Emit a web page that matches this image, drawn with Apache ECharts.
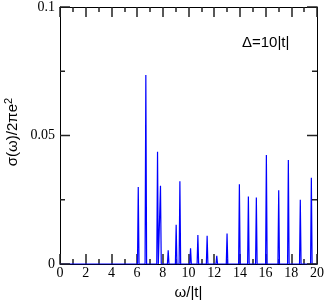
<!DOCTYPE html>
<html>
<head>
<meta charset="utf-8">
<script src="https://cdn.jsdelivr.net/npm/echarts@6/dist/echarts.min.js"></script>
<style>html,body{margin:0;padding:0;background:#fff}#c{width:327px;height:304px}</style>
</head>
<body>
<div id="c"></div>
<script>
// Peak positions (ω/|t|) and heights (σ(ω)/2πe²)
var peakOmega  = [6.09, 6.68, 7.59, 7.82, 8.42, 9.04, 9.33, 10.16, 10.73, 11.45, 12.2, 13.0, 13.96, 14.66, 15.28, 16.06, 17.02, 17.77, 18.7, 19.56];
var peakSigma  = [0.0300, 0.0735, 0.0437, 0.0304, 0.0053, 0.0153, 0.0322, 0.0061, 0.0113, 0.0110, 0.0032, 0.0119, 0.0310, 0.0263, 0.0259, 0.0424, 0.0287, 0.0405, 0.0250, 0.0336];
var xTicks = [0, 2, 4, 6, 8, 10, 12, 14, 16, 18, 20];
var yTicks = [0, 0.05, 0.1];
var annotation = 'Δ=10|t|';

// y axis is run in units of 1e-3 (integer ticks), labels divide back
var yUnit = 1000;
var halfWidth = 0.06;
var data = [[0, 0]];
for (var i = 0; i < peakOmega.length; i++) {
  data.push([peakOmega[i] - halfWidth, 0]);
  data.push([peakOmega[i], peakSigma[i] * yUnit]);
  data.push([peakOmega[i] + halfWidth, 0]);
}
data.push([20, 0]);

var chart = echarts.init(document.getElementById('c'), null, {renderer: 'canvas'});
var serif = 'Liberation Serif';
var sans = 'Liberation Sans';
var tickCol = '#222';
function xAx(pos, show) {
  return {
    type: 'value', position: pos, min: xTicks[0], max: xTicks[xTicks.length - 1], interval: 2,
    axisLine: {show: true, onZero: false, lineStyle: {color: '#000', width: 1}},
    axisTick: {show: true, inside: true, length: 10, lineStyle: {color: tickCol, width: 1.5}},
    minorTick: {show: true, splitNumber: 2, length: 5, lineStyle: {color: tickCol, width: 1.5}},
    splitLine: {show: false},
    axisLabel: {show: true, fontFamily: serif, fontSize: 14, color: show ? '#000' : 'rgba(0,0,0,0)', margin: 2},
    name: show ? 'ω/|t|' : '', nameLocation: 'middle', nameGap: 13,
    nameTextStyle: {fontFamily: sans, fontSize: 15, color: '#000'}
  };
}
function yAx(pos, show) {
  return {
    type: 'value', position: pos,
    min: yTicks[0] * yUnit, max: yTicks[yTicks.length - 1] * yUnit, interval: (yTicks[1] - yTicks[0]) * yUnit,
    axisLine: {show: true, onZero: false, lineStyle: {color: '#000', width: 1}},
    axisTick: {show: false},
    minorTick: {show: false},
    splitLine: {show: false},
    axisLabel: {
      show: true, fontFamily: serif, fontSize: 14, color: show ? '#000' : 'rgba(0,0,0,0)', margin: 5,
      formatter: function (v) { return String(Math.round(v) / yUnit); }
    }
  };
}
var texts = [{
  type: 'text', left: 242, top: 35,
  style: {text: annotation, fontFamily: sans, fontSize: 15, fill: '#000'}
}, {
  type: 'text', x: 13, y: 132, rotation: Math.PI / 2,
  style: {
    text: '{a|σ(ω)/2πe}{s|2}', align: 'center', verticalAlign: 'middle', fill: '#000',
    rich: {
      a: {fontFamily: sans, fontSize: 15, fill: '#000'},
      s: {fontFamily: sans, fontSize: 11, fill: '#000', padding: [0, 0, 9, 0]}
    }
  }
}];
chart.setOption({
  animation: false,
  backgroundColor: '#fff',
  grid: {left: 60, right: 10, top: 7, bottom: 40, containLabel: false, outerBoundsMode: 'none'},
  xAxis: [xAx('bottom', true), xAx('top', false)],
  yAxis: [yAx('left', true), yAx('right', false)],
  series: [{
    type: 'line', xAxisIndex: 0, yAxisIndex: 0, data: data, showSymbol: false,
    lineStyle: {color: '#0000ff', width: 1.2}, z: 3
  }, {
    // same data bound to the mirrored top/right axes so they draw their ticks
    type: 'line', xAxisIndex: 1, yAxisIndex: 1, data: data, showSymbol: false, silent: true,
    lineStyle: {opacity: 0, width: 0}, z: 1
  }],
  graphic: texts
});

// inward y ticks (left and right frame), placed through the chart's own scales
var xl = chart.convertToPixel({xAxisIndex: 0}, xTicks[0]);
var xr = chart.convertToPixel({xAxisIndex: 0}, xTicks[xTicks.length - 1]);
var tickEls = [];
function addTick(v, len) {
  var py = chart.convertToPixel({yAxisIndex: 0}, v * yUnit);
  tickEls.push({type: 'line', z: 10, shape: {x1: xl, y1: py, x2: xl + len, y2: py}, style: {stroke: tickCol, lineWidth: 1.5}});
  tickEls.push({type: 'line', z: 10, shape: {x1: xr, y1: py, x2: xr - len, y2: py}, style: {stroke: tickCol, lineWidth: 1.5}});
}
for (var k = 0; k < yTicks.length; k++) {
  addTick(yTicks[k], 10);
  if (k < yTicks.length - 1) addTick((yTicks[k] + yTicks[k + 1]) / 2, 5);
}
chart.setOption({graphic: texts.concat(tickEls)});
</script>
</body>
</html>
